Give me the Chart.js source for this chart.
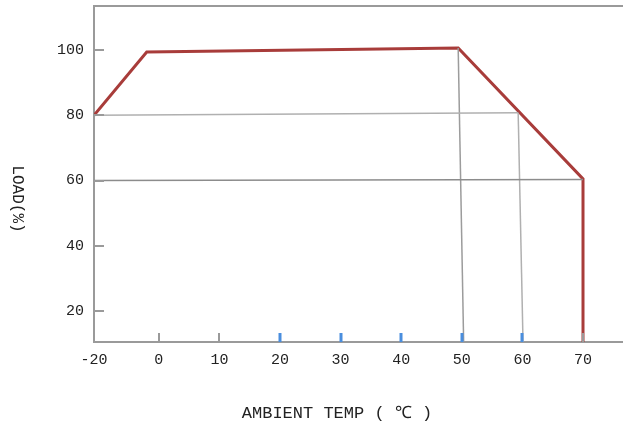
<!DOCTYPE html>
<html>
<head>
<meta charset="utf-8">
<script src="https://cdn.jsdelivr.net/npm/chart.js@4/dist/chart.umd.min.js"></script>
<style>
  html, body { margin: 0; padding: 0; background: #fff; }
  #wrap { width: 623px; height: 427px; }
</style>
</head>
<body>
<div id="wrap"><canvas id="derating"></canvas></div>
<script>
// derating curve
const curveTemp = [-20, -2, 49.4, 70, 70];
const curveLoad = [80, 99.4, 100.6, 60.5, 10.5];

// helper lines (gray)
const h80Temp = [-20, 59.3];
const h80Load = [80, 80.8];
const h60Temp = [-20, 70];
const h60Load = [60, 60.3];
const v50Temp = [49.4, 50.3];
const v50Load = [100.6, 10.5];
const v60Temp = [59.3, 60.1];
const v60Load = [80.8, 10.5];

const xTicks = [-20, 0, 10, 20, 30, 40, 50, 60, 70];
const blueTicks = [20, 30, 40, 50, 60];
const yTicks = [20, 40, 60, 80, 100];

// the axis is broken: -20 sits at the origin, not to scale
const ORIGIN = -10.7;
const toAxis = t => (t === -20 ? ORIGIN : t);
const pts = (xs, ys) => xs.map((x, i) => ({ x: toAxis(x), y: ys[i] }));

const FONT = "'Liberation Mono', monospace";

const decor = {
  id: 'decor',
  afterDraw(chart) {
    const { ctx, chartArea: a, scales } = chart;
    ctx.save();
    // top border
    ctx.strokeStyle = '#9a9a9a';
    ctx.lineWidth = 2;
    ctx.beginPath();
    ctx.moveTo(a.left, a.top);
    ctx.lineTo(a.right, a.top);
    ctx.stroke();
    // y tick marks, inside
    yTicks.forEach(v => {
      const y = Math.round(scales.y.getPixelForValue(v));
      ctx.beginPath();
      ctx.moveTo(a.left, y);
      ctx.lineTo(a.left + 10, y);
      ctx.stroke();
    });
    // x tick marks, inside
    xTicks.slice(1).forEach(v => {
      const x = Math.round(scales.x.getPixelForValue(v));
      ctx.strokeStyle = blueTicks.includes(v) ? '#4a8ede' : '#9a9a9a';
      ctx.lineWidth = blueTicks.includes(v) ? 3 : 2;
      ctx.beginPath();
      ctx.moveTo(x, a.bottom);
      ctx.lineTo(x, a.bottom - 9);
      ctx.stroke();
    });
    // axis titles
    ctx.fillStyle = '#222';
    ctx.font = '17px ' + FONT;
    ctx.textAlign = 'center';
    ctx.textBaseline = 'middle';
    ctx.fillText('AMBIENT TEMP ( ℃ )', 337, 413);
    ctx.translate(17, 199);
    ctx.rotate(Math.PI / 2);
    ctx.font = '16px ' + FONT;
    ctx.fillText('LOAD(%)', 0, 0);
    ctx.restore();
  }
};

const gray = (data, color) => ({
  data, borderColor: color, borderWidth: 1.5, pointRadius: 0, fill: false
});

new Chart(document.getElementById('derating'), {
  type: 'line',
  data: {
    datasets: [
      gray(pts(h80Temp, h80Load), '#b0b0b0'),
      gray(pts(h60Temp, h60Load), '#8c8c8c'),
      gray(pts(v50Temp, v50Load), '#9c9c9c'),
      gray(pts(v60Temp, v60Load), '#b0b0b0'),
      {
        data: pts(curveTemp, curveLoad),
        borderColor: '#a83c3a',
        borderWidth: 3,
        pointRadius: 0,
        fill: false
      }
    ]
  },
  plugins: [decor],
  options: {
    responsive: true,
    maintainAspectRatio: false,
    animation: false,
    layout: { padding: { top: 6, right: 0, left: 0, bottom: 0 } },
    plugins: { legend: { display: false }, tooltip: { enabled: false } },
    scales: {
      x: {
        type: 'linear',
        min: ORIGIN,
        max: 76.6,
        afterBuildTicks: s => { s.ticks = xTicks.map(v => ({ value: toAxis(v) })); },
        afterFit: s => { s.height = 85; s.paddingLeft = 0; s.paddingRight = 0; },
        grid: { drawOnChartArea: false, drawTicks: false },
        border: { color: '#9a9a9a', width: 2 },
        ticks: {
          padding: 9,
          color: '#222',
          font: { family: FONT, size: 15 },
          callback: v => (v === ORIGIN ? '-20' : String(v))
        }
      },
      y: {
        min: 10.5,
        max: 113.5,
        afterBuildTicks: s => { s.ticks = yTicks.map(v => ({ value: v })); },
        afterFit: s => { s.width = 94; s.paddingTop = 0; s.paddingBottom = 0; },
        grid: { drawOnChartArea: false, drawTicks: false },
        border: { color: '#9a9a9a', width: 2 },
        ticks: {
          padding: 10,
          color: '#222',
          font: { family: FONT, size: 15 }
        }
      }
    }
  }
});
</script>
</body>
</html>
